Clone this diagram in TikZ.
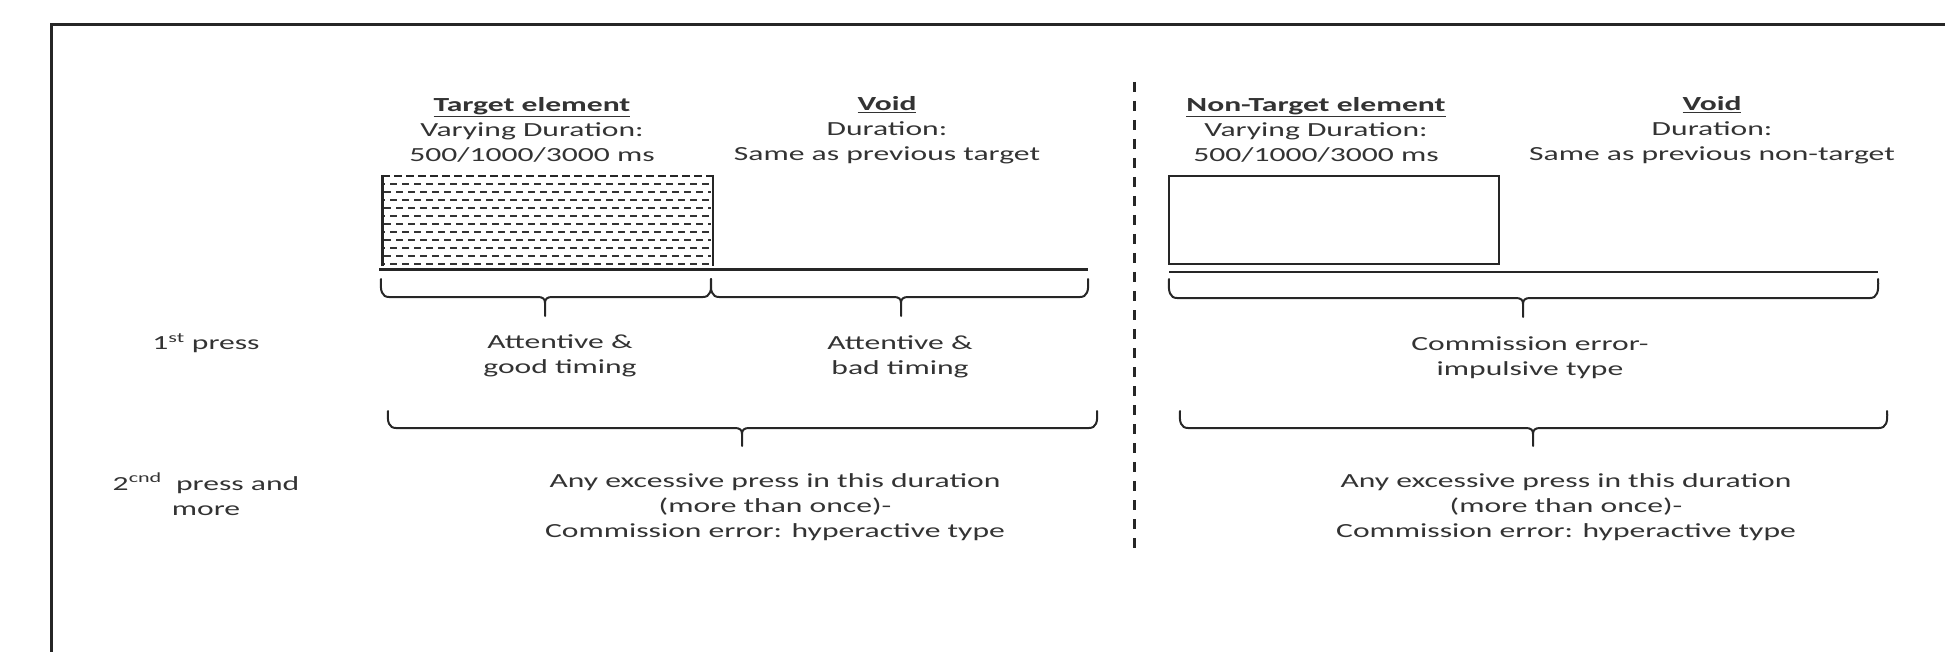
\documentclass[tikz,border=0pt]{standalone}
\usepackage{fontspec}
\setmainfont{Carlito}[FakeStretch=1.58]
\newcommand\hbrace[6]{% x1, x2, tip x, top of ends, bar level, tip end
  \draw[bracestyle] (#1,#4) .. controls ({#1-1},{#5-6}) and ({#1+1},#5) .. ({#1+8},#5)
    -- ({#3-7},#5) .. controls ({#3-2},#5) and (#3,{#5+2}) .. (#3,{#5+6}) -- (#3,#6);
  \draw[bracestyle] (#2,#4) .. controls ({#2+1},{#5-6}) and ({#2-1},#5) .. ({#2-8},#5)
    -- ({#3+7},#5) .. controls ({#3+2},#5) and (#3,{#5+2}) .. (#3,{#5+6});
}
\begin{document}
\begin{tikzpicture}[x=1pt,y=-1pt,
  lbl/.style={font=\fontsize{20}{25}\selectfont, text=black!80, align=center, inner sep=0pt},
  bracestyle/.style={draw=black!85, line width=2pt, line join=round, line cap=round},
  edge/.style={draw=black!85, line width=2pt},
  hatch/.style={draw=black!80, line width=1.6pt, dash pattern=on 7pt off 5pt}]
\useasboundingbox (0,0) rectangle (1945,652);

% outer frame (left and top sides)
\draw[line width=3pt, black!85, line join=miter] (51,670) -- (51,25) -- (1970,25);

% separator between target and non-target halves
\draw[line width=3pt, black!85, dash pattern=on 10pt off 9pt] (1134,82) -- (1134,552);

% ---------- target element ----------
\foreach \k in {1,...,11}{
  \pgfmathsetmacro\yy{176+8*\k}
  \pgfmathsetmacro\ph{mod(\k,2)*6}
  \draw[hatch, dash phase=\ph pt] (384,\yy) -- (711,\yy);
}
\draw[draw=black!85, line width=2.6pt, dash pattern=on 8pt off 4pt] (382,176) -- (713,176);
\draw[draw=black!85, line width=3pt] (382,175) -- (382,266);
\draw[edge] (713,175) -- (713,266);
\draw[draw=black!85, line width=2.6pt] (379,269.5) -- (1088,269.5);

\node[lbl] (tgt) at (532,130) {\underline{\textbf{Target element}}\\Varying Duration:\\500/1000/3000 ms};
\node[lbl] (voidA) at (887,130) {\underline{\textbf{Void}}\\Duration:\\Same as previous target};

\hbrace{381}{711}{545}{279}{297}{316}
\hbrace{711}{1088}{901}{279}{297}{316}

\node[lbl] (good) at (560,356) {Attentive \&\\good timing};
\node[lbl] (bad) at (900,357) {Attentive \&\\bad timing};

\hbrace{388}{1097}{742}{411}{428}{446}
\node[lbl] (hyperA) at (775,507) {Any excessive press in this duration\\(more than once)-\\Commission error: hyperactive type};

% ---------- non-target element ----------
\draw[edge] (1169,176) rectangle (1499,264);
\draw[draw=black!85, line width=2.6pt] (1169,272) -- (1878,272);

\node[lbl] (ntgt) at (1316,130) {\underline{\textbf{Non-Target element}}\\Varying Duration:\\500/1000/3000 ms};
\node[lbl] (voidB) at (1712,130) {\underline{\textbf{Void}}\\Duration:\\Same as previous non-target};

\hbrace{1169}{1878}{1523}{279}{298}{317}
\node[lbl] (impulsive) at (1530,358) {Commission error-\\impulsive type};

\hbrace{1180}{1887}{1533}{411}{428}{446}
\node[lbl] (hyperB) at (1566,507) {Any excessive press in this duration\\(more than once)-\\Commission error: hyperactive type};

% ---------- row captions ----------
\node[lbl] (pressA) at (206,343) {1\textsuperscript{st} press};
\node[lbl] (pressB) at (206,494) {2\textsuperscript{cnd}\ \ press and\\more};
\end{tikzpicture}
\end{document}
